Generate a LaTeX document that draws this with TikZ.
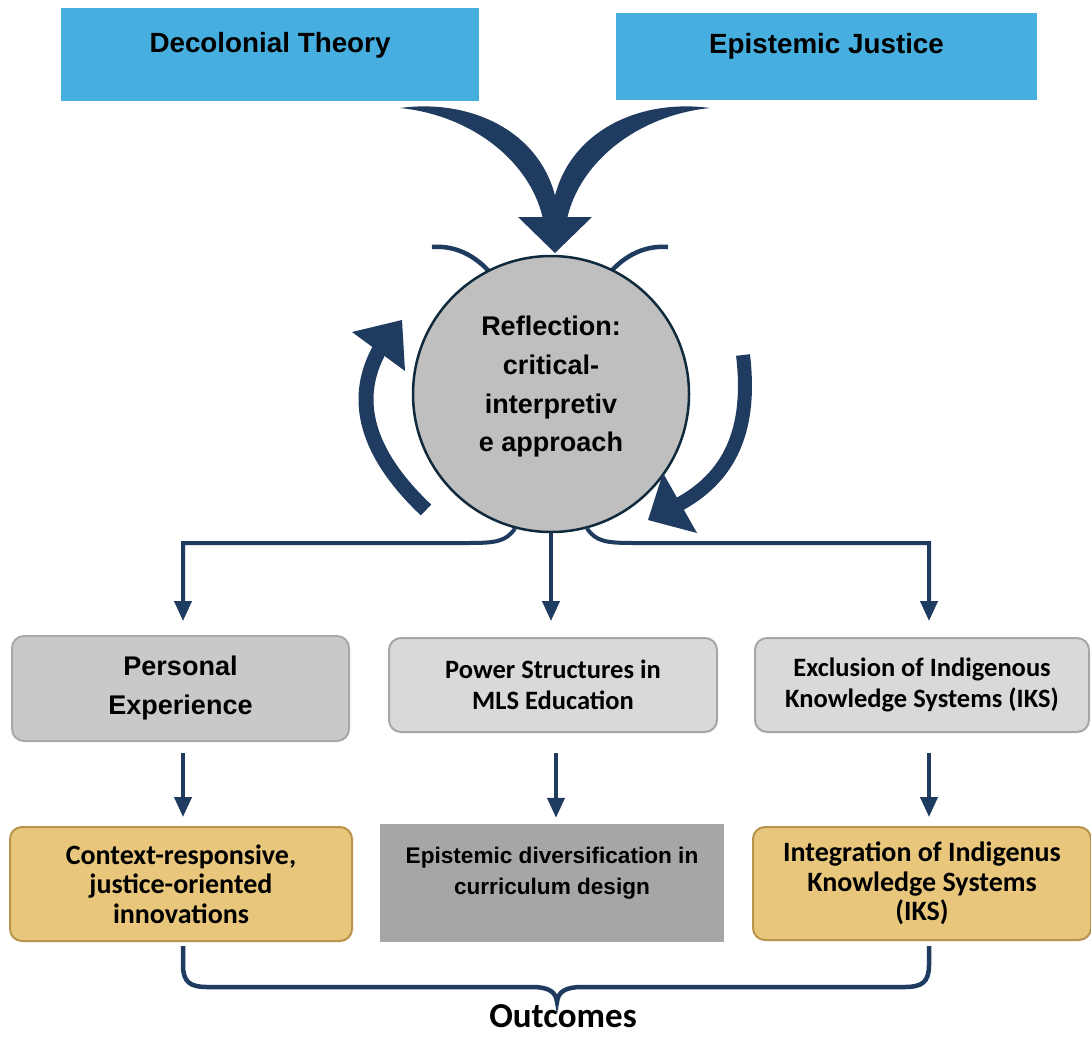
\documentclass[tikz,border=0pt]{standalone}
\usepackage{fontspec}
\setmainfont{Liberation Sans}
\newfontfamily\carl{Carlito}
\usetikzlibrary{arrows.meta,calc}
\definecolor{skyb}{HTML}{47AFE0}
\definecolor{navy}{HTML}{1F3B60}
\definecolor{cgrey}{HTML}{BFBFBF}
\definecolor{cborder}{HTML}{0E2A3C}
\definecolor{pgrey}{HTML}{C9C9C9}
\definecolor{pline}{HTML}{A9A9A9}
\definecolor{lgrey}{HTML}{D9D9D9}
\definecolor{lline}{HTML}{A6A6A6}
\definecolor{gold}{HTML}{E8C77C}
\definecolor{goldline}{HTML}{B8944E}
\definecolor{dgrey}{HTML}{A6A6A6}
\begin{document}
\begin{tikzpicture}[x=1pt,y=-1pt,
  topbox/.style={fill=skyb, inner sep=0pt, font=\fontsize{27.8}{30}\selectfont\bfseries},
  gbox/.style={rounded corners=12pt, line width=2pt, inner sep=0pt, align=center},
  conn/.style={draw=navy, line width=4pt, -{Triangle[length=20pt,width=17pt]}},
  swoosh/.style={fill=navy},
  thick arc/.style={draw=navy, line width=4.5pt},
]
\useasboundingbox (0,0) rectangle (1091,1036);
\fill[white] (0,0) rectangle (1091,1036);

% top boxes
\node[topbox, minimum width=418pt, minimum height=93pt, text height=20pt, text depth=25pt] (dt) at (270,54.5) {Decolonial Theory};
\node[topbox, minimum width=421pt, minimum height=87pt, text height=20pt, text depth=27pt] (ej) at (826.5,56.5) {Epistemic Justice};

% converging swooshes
\fill[swoosh] (400,108) .. controls (475,98) and (545,135) .. (557,205) -- (557,219) -- (543,219) .. controls (530,160) and (470,115) .. (400,108) -- cycle;
\fill[swoosh] (710,108) .. controls (635,98) and (565,135) .. (553,205) -- (553,219) -- (567,219) .. controls (580,160) and (640,115) .. (710,108) -- cycle;
\fill[swoosh] (518,217) -- (592,217) -- (555,253) -- cycle;

% small arcs at top of circle
\draw[thick arc] (432,247) .. controls (458,245) and (480,258) .. (496,280);
\draw[thick arc] (668,247) .. controls (642,245) and (620,258) .. (604,280);

% circle
\node[circle, minimum size=276pt, fill=cgrey, draw=cborder, line width=2.5pt, inner sep=0pt, align=center, font=\fontsize{27}{38.7}\selectfont\bfseries] (rf) at (551,394) {Reflection:\\critical-\\interpretiv\\e approach\rule[-20pt]{0pt}{0pt}};

% cycle arrows
\draw[navy, line width=15pt] (426,510) .. controls (368,455) and (350,400) .. (381,347);
\fill[navy] (352,332) -- (402,320) -- (405,371) -- cycle;
\draw[navy, line width=14pt] (743,355) .. controls (752,430) and (730,478) .. (676,506);
\fill[navy] (663,473) -- (648,520) -- (697,533) -- cycle;

% row 1
\node[gbox, fill=pgrey, draw=pline, minimum width=337pt, minimum height=105pt, font=\fontsize{27}{39}\selectfont\bfseries] (pe) at (180.5,688.5) {Personal\\Experience};
\node[gbox, fill=lgrey, draw=lline, minimum width=328pt, minimum height=94pt, font=\carl\fontsize{26.5}{31}\selectfont\bfseries] (pw) at (553,685) {Power Structures in\\MLS Education};
\node[gbox, fill=lgrey, draw=lline, minimum width=334pt, minimum height=94pt, font=\carl\fontsize{26.5}{31}\selectfont\bfseries] (ex) at (922,685) {Exclusion of Indigenous\\Knowledge Systems (IKS)};

% row 2
\node[gbox, fill=gold, draw=goldline, minimum width=342pt, minimum height=114pt, font=\carl\fontsize{28}{29.5}\selectfont\bfseries] (cr) at (181,884) {Context-responsive,\\justice-oriented\\innovations};
\node[fill=dgrey, inner sep=0pt, minimum width=344pt, minimum height=118pt, align=center, font=\fontsize{22.6}{31}\selectfont\bfseries] (ed) at (552,883) {Epistemic diversification in\\curriculum design\rule[-25pt]{0pt}{0pt}};
\node[gbox, fill=gold, draw=goldline, minimum width=338pt, minimum height=113pt, font=\carl\fontsize{28}{29.5}\selectfont\bfseries] (ig) at (922,883.5) {Integration of Indigenus\\Knowledge Systems\\(IKS)};

% outcomes
\node[font=\carl\fontsize{35}{40}\selectfont\bfseries, inner sep=0pt] (oc) at (563,1016) {Outcomes};

% branches from circle
\draw[conn, shorten >=14pt] (rf.255) .. controls +(-9,13) and +(28,0) .. (468,543) -| ([xshift=2.5pt]pe.north);
\draw[conn, shorten >=16pt] (rf.south) -- (rf.south |- pw.north);
\draw[conn, shorten >=16pt] (rf.285) .. controls +(9,13) and +(-28,0) .. (634,543) -| ([xshift=7pt]ex.north);

% row arrows
\draw[conn, shorten <=11pt, shorten >=9pt] ([xshift=2.5pt]pe.south) -- ([xshift=2.5pt]pe.south |- cr.north);
\draw[conn, shorten <=20pt, shorten >=6pt] ([xshift=3pt]pw.south) -- ([xshift=3pt]pw.south |- ed.north);
\draw[conn, shorten <=20pt, shorten >=9pt] ([xshift=7pt]ex.south) -- ([xshift=7pt]ex.south |- ig.north);

% brace
\draw[navy, line width=4.5pt] ([xshift=2pt,yshift=-4pt]cr.south) -- (183,965) .. controls (183,982) and (190,987) .. (207,987) -- (532,987) .. controls (549,987) and (556,992) .. (557,1002) .. controls (558,992) and (565,987) .. (582,987) -- (905,987) .. controls (922,987) and (929,982) .. (929,965) -- ([xshift=7pt,yshift=-5pt]ig.south);
\end{tikzpicture}
\end{document}
